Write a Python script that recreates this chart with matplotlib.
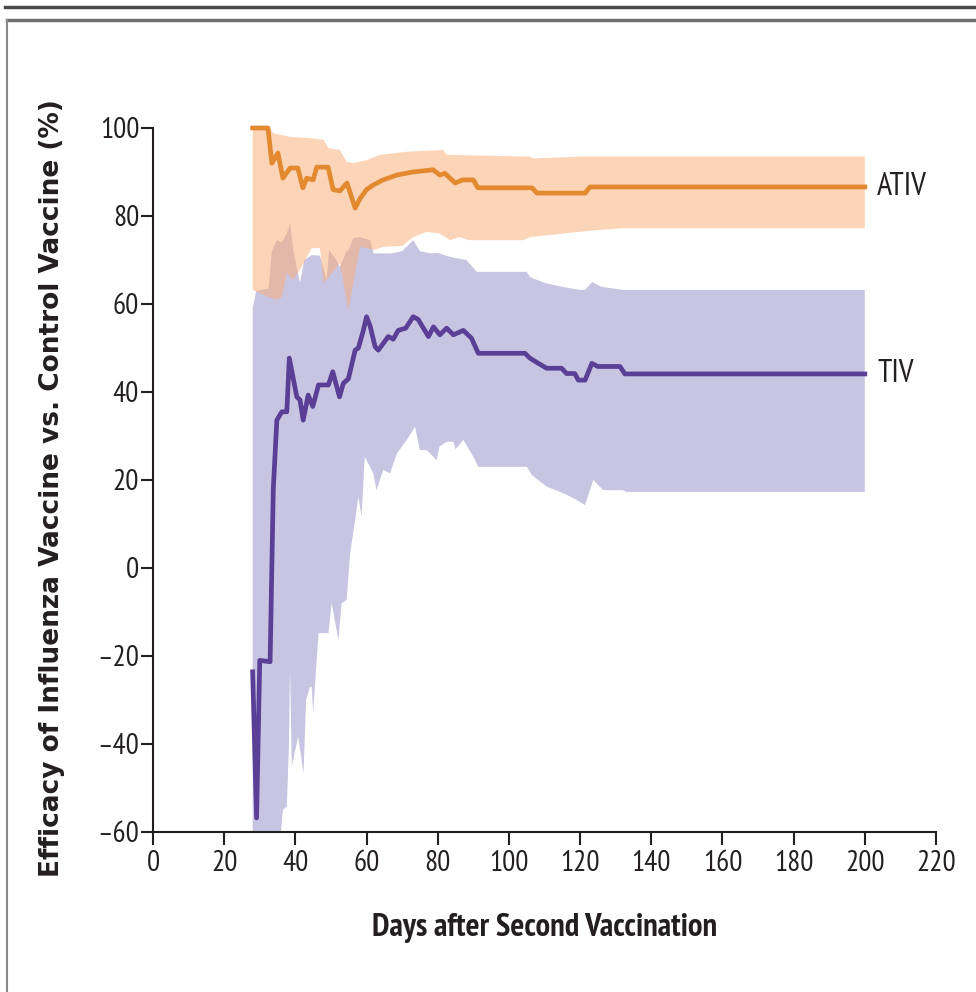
import numpy as np
import matplotlib
matplotlib.use("Agg")
import matplotlib.pyplot as plt
from matplotlib.lines import Line2D

# ---------------- data ----------------
ativ_days = [28, 32.3, 33.4, 35.1, 36.5, 38.5, 40.7, 42.1, 43.2, 45, 46, 49.2, 50.6, 52.5,
             54.5, 56.8, 58.2, 60, 61.8, 64.6, 68.5, 73, 78.7, 80.6, 82, 84.9, 87, 90, 91.3,
             106.5, 107.9, 121.4, 122.8, 200]
ativ_eff = [100, 100, 92, 94.3, 88.6, 90.9, 90.9, 86.4, 88.6, 88.2, 91.1, 91.1, 86, 85.7,
            87.5, 81.8, 84, 86, 87, 88.2, 89.3, 90, 90.5, 89.3, 89.7, 87.5, 88.2, 88.2, 86.4,
            86.4, 85.2, 85.2, 86.6, 86.6]

ativ_up_days = [28, 32.8, 33.8, 38.5, 44.1, 47.9, 49.3, 52.5, 54.4, 56.3, 60, 63.8, 71.3,
                81.5, 82.5, 105.9, 106.8, 120, 200]
ativ_up = [100, 100, 98.8, 98, 97.7, 97.3, 95.4, 95, 92.3, 92, 92.7, 93.9, 94.6,
           95, 93.9, 93.5, 93.1, 93.5, 93.5]

ativ_lo_days = [28, 30, 32.9, 34.8, 36.2, 37.6, 39.4, 41.5, 43.2, 44.6, 46.9, 47.9, 48.8,
                52.5, 54.9, 56.3, 58.2, 61.9, 65, 70, 73.1, 76.9, 80.6, 83.5, 86, 89, 104,
                106, 115, 124.8, 132, 200]
ativ_lo = [63.2, 62.5, 61.4, 61, 61.6, 67, 65.5, 68, 70.7, 72.7, 72.7, 64.8, 65.5,
           69.3, 58.6, 64.8, 73, 72.3, 73, 73.2, 75.2, 76.4, 76, 74.5, 75.2, 74.5, 74.5,
           75.2, 76, 76.8, 77.2, 77.2]

tiv_days = [28, 29.1, 30, 32.9, 33.8, 34.8, 36.2, 37.6, 38.3, 40.4, 41.3, 42.2, 43.6, 44.9,
            46.5, 49.3, 50.5, 52.4, 53.5, 54.9, 56.8, 57.7, 59.1, 60, 61, 62.4, 63.3, 66.1,
            67.5, 68.9, 71, 73.1, 74.5, 77.4, 78.8, 80.6, 82.5, 84.4, 87.2, 88.5, 89.5,
            91.4, 104.5, 105.9, 108.3, 110.6, 114.8, 116.2, 118.5, 119.5, 121.4, 123.3,
            125, 131.2, 132.6, 200]
tiv_eff = [-23.6, -56.8, -21, -21.3, 18, 33.6, 35.5, 35.5, 47.7, 38.9, 38.2, 33.6, 39.3, 36.7,
           41.6, 41.6, 44.6, 38.9, 42, 43, 49.5, 50, 54, 57.1, 55, 50.3, 49.5, 52.6,
           52, 54, 54.5, 57.1, 56.5, 52.6, 54.8, 53, 54.5, 53, 54, 53, 52.2,
           48.8, 48.8, 47.7, 46.5, 45.4, 45.4, 44.2, 44.2, 42.7, 42.7, 46.5,
           45.8, 45.8, 44.1, 44.1]

tiv_up_days = [28, 29, 32.5, 33.4, 34.8, 36.2, 37.6, 38.5, 39.4, 41.3, 42.5, 44.6, 46.9,
               48.8, 49.5, 51.5, 52.5, 54.4, 55, 56.3, 58.2, 61, 62, 67, 70, 73.1, 75, 78,
               80, 83.5, 88, 91, 105, 106, 110, 115, 120, 121.4, 123.4, 126, 132, 200]
tiv_up = [59, 63, 63.5, 72, 74.5, 74, 76, 78.4, 72.3, 64.8, 70, 71.1, 71,
          65.5, 72.3, 70, 68.4, 72, 72.3, 75, 75.2, 74.5, 71.5, 71.5, 72, 74.5, 72, 71.5,
          71.6, 70.7, 70, 67.3, 67.3, 66.1, 64.8, 63.9, 63.2, 63.2, 65, 63.9, 63.2, 63.2]

tiv_lo_days = [28, 35, 35.7, 36.5, 37.6, 38.2, 38.5, 39, 40.8, 42.3, 43, 44.1, 44.6, 45,
               46.5, 49.3, 50.2, 52.1, 53, 54.4, 55.4, 56.8, 57.7, 58.6, 59.5, 61.9, 62.8,
               64.7, 66.6, 68.5, 71.3, 73.6, 75, 76.9, 79.7, 80.5, 82.5, 84.4, 85, 87.2, 90,
               91.4, 105, 106.5, 110.6, 115.3, 119, 121.4, 123.7, 126.5, 132, 133, 200]
tiv_lo = [-75, -75, -62, -55, -54.2, -40, -22.4, -45, -38.3, -46.7, -30, -27, -27, -33,
          -14.8, -14.8, -8, -16.4, -8, -7.3, 3.4, 10.9, 16.2, 11.7, 25.3, 21.5, 17.7,
          22.3, 21.5, 26, 29.1, 32.1, 26.8, 26.8, 24.5, 27.6, 28.7, 28.7, 27, 29.1, 25.3,
          23, 23, 21.1, 18.5, 17, 15.5, 14.3, 20, 17.7, 17.7, 17.3, 17.3]

x_ticks = [0, 20, 40, 60, 80, 100, 120, 140, 160, 180, 200, 220]
y_ticks = [100, 80, 60, 40, 20, 0, -20, -40, -60]
y_tick_labels = ["100", "80", "60", "40", "20", "0", "\u201320", "\u201340", "\u201360"]

# ---------------- style ----------------
TXT = "#231f20"
NARROW = ["PT Sans Narrow", "DejaVu Sans"]
plt.rcParams["font.family"] = NARROW

fig = plt.figure(figsize=(9.76, 9.92), dpi=100)
ax = fig.add_axes([153 / 976, 1 - 832 / 992, (936 - 153) / 976, (832 - 128) / 992])

# bands
ax.fill(np.concatenate([tiv_up_days, tiv_lo_days[::-1]]),
        np.concatenate([tiv_up, tiv_lo[::-1]]),
        color="#c8c5e2", lw=0, zorder=1)
ax.fill(np.concatenate([ativ_up_days, ativ_lo_days[::-1]]),
        np.concatenate([ativ_up, ativ_lo[::-1]]),
        color=(251 / 255, 173 / 255, 116 / 255), alpha=0.51, lw=0, zorder=2)

# lines
ax.plot(ativ_days, ativ_eff, color="#e3892f", lw=3.4, zorder=4, clip_on=False)
ax.plot(tiv_days, tiv_eff, color="#5b3e96", lw=3.4, zorder=4, clip_on=False)

ax.text(203.5, ativ_eff[-1], "ATIV", fontsize=23, color=TXT, va="center", ha="left")
ax.text(203.5, tiv_eff[-1], "TIV", fontsize=23, color=TXT, va="center", ha="left")

ax.set_xlim(0, 220)
ax.set_ylim(-60, 100)
ax.set_xticks(x_ticks)
ax.set_xticklabels([str(t) for t in x_ticks])
ax.set_yticks(y_ticks)
ax.set_yticklabels(y_tick_labels)

for s in ["top", "right"]:
    ax.spines[s].set_visible(False)
for s in ["left", "bottom"]:
    ax.spines[s].set_linewidth(1.5)
    ax.spines[s].set_color(TXT)

ax.tick_params(axis="both", direction="out", length=9, width=1.5, color=TXT,
               labelsize=21, labelcolor=TXT)
ax.tick_params(axis="y", pad=1)
ax.tick_params(axis="x", pad=4)

fig.text(52 / 976, 1 - 488 / 992, "Efficacy of Influenza Vaccine vs. Control Vaccine (%)",
         rotation=90, rotation_mode="anchor", ha="center", va="center", fontsize=19,
         fontweight="bold", color=TXT, family=["DejaVu Sans"])
fig.text(545 / 976, 1 - 928 / 992, "Days after Second Vaccination",
         ha="center", va="center", fontsize=23.5, fontweight="bold", color=TXT,
         family=NARROW)

# frame lines
fig.add_artist(Line2D([5 / 976, 1], [1 - 7 / 992, 1 - 7 / 992], transform=fig.transFigure,
                      color="#4a4a4a", lw=2.5))
fig.add_artist(Line2D([7 / 976, 1], [1 - 20 / 992, 1 - 20 / 992], transform=fig.transFigure,
                      color="#6e6e6e", lw=2.5))
fig.add_artist(Line2D([7 / 976, 7 / 976], [1 - 20 / 992, 0], transform=fig.transFigure,
                      color="#8a8a8a", lw=1.5))

fig.savefig("out.png", dpi=100)
